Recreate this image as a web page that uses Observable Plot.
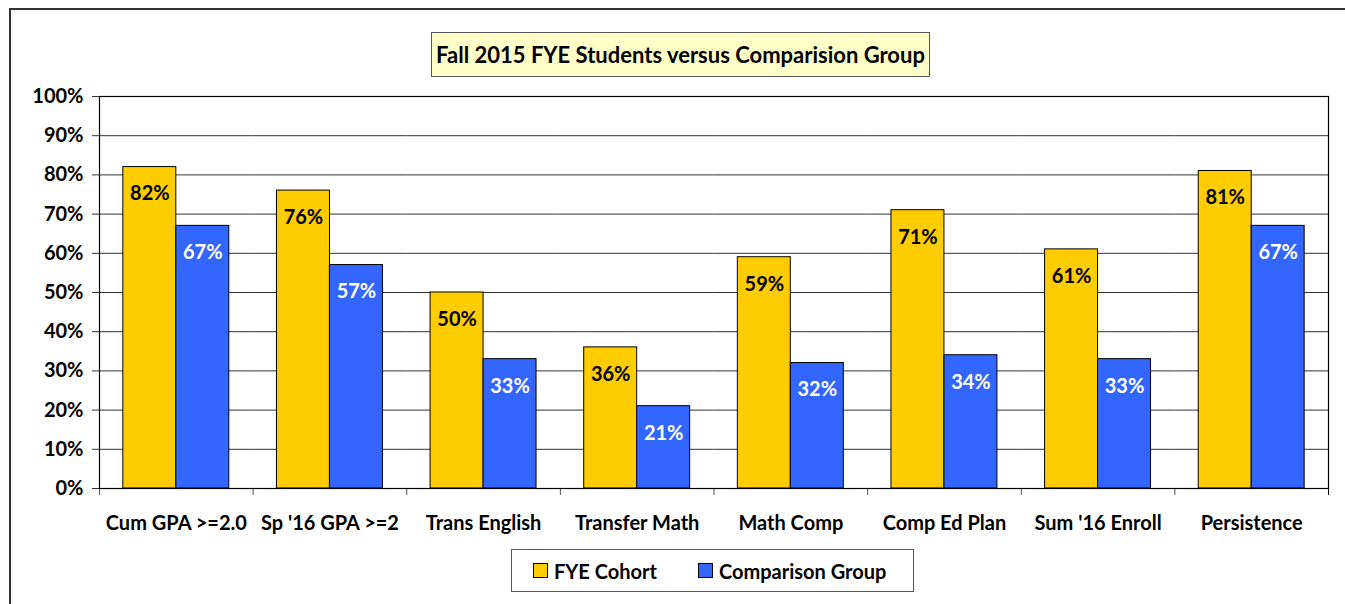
<!DOCTYPE html>
<html>
<head>
<meta charset="utf-8">
<script src="https://cdn.jsdelivr.net/npm/d3@7"></script>
<script src="https://cdn.jsdelivr.net/npm/@observablehq/plot@0.6"></script>
<style>
  html, body { margin: 0; padding: 0; background: #fff; }
  #wrap { position: relative; width: 1345px; height: 604px; overflow: hidden; font-family: Lato, "Liberation Sans", sans-serif; font-weight: bold; }
  #border { position: absolute; left: 9px; top: 8px; right: -10px; bottom: -10px; border-top: 2px solid #333; border-left: 2px solid #333; pointer-events: none; z-index: 3; }
  #chart { position: absolute; left: 0; top: 0; z-index: 1; }
  #title { position: absolute; left: 431px; top: 32px; width: 497px; height: 43px; background: #FFFFC8; border: 1px solid #555; z-index: 2; font-size: 22px; line-height: 44px; text-align: center; color: #000; box-sizing: content-box; white-space: nowrap; }
  #legend { position: absolute; left: 511px; top: 549px; width: 401px; height: 41px; background: #fff; border: 1px solid #555; z-index: 2; font-size: 20px; color: #000; }
  .item { display: flex; align-items: center; position: absolute; top: 0; height: 41px; }
  .sw { width: 15px; height: 15px; border: 1px solid #000; margin-right: 6px; box-sizing: border-box; }
</style>
</head>
<body>
<div id="wrap">
  <div id="chart"></div>
  <div id="title">Fall 2015 FYE Students versus Comparision Group</div>
  <div id="legend"></div>
  <div id="border"></div>
</div>
<script>
const categories = ["Cum GPA >=2.0", "Sp '16 GPA >=2", "Trans English", "Transfer Math", "Math Comp", "Comp Ed Plan", "Sum '16 Enroll", "Persistence"];
const fyeCohort = [82, 76, 50, 36, 59, 71, 61, 81];
const comparisonGroup = [67, 57, 33, 21, 32, 34, 33, 67];
const seriesNames = ["FYE Cohort", "Comparison Group"];
const seriesColors = ["#FFCC00", "#3366FF"];
const labelColors = ["#000000", "#FFFFFF"];
const yTicks = [0, 10, 20, 30, 40, 50, 60, 70, 80, 90, 100];

const rows = categories.flatMap((cat, i) => [
  {cat, series: seriesNames[0], value: fyeCohort[i]},
  {cat, series: seriesNames[1], value: comparisonGroup[i]}
]);

const W = 1345, H = 604, ml = 99, mr = 17, mt = 96, mb = 116;
const step = (W - ml - mr) / categories.length;
const noText = () => "";

const chart = Plot.plot({
  width: W,
  height: H,
  marginLeft: ml,
  marginRight: mr,
  marginTop: mt,
  marginBottom: mb,
  style: {fontFamily: "Lato, 'Liberation Sans', sans-serif", fontSize: "20px", fontWeight: "bold", color: "#000", background: "transparent"},
  fx: {domain: categories, padding: 0, round: false, axis: null},
  x: {domain: seriesNames, paddingInner: 0, paddingOuter: 0.45, round: false, axis: null},
  y: {domain: [0, 100], axis: null},
  color: {domain: seriesNames, range: seriesColors},
  marks: [
    Plot.gridY(yTicks, {stroke: "#333", strokeOpacity: 1, strokeWidth: 1}),
    Plot.barY(rows, {fx: "cat", x: "series", y: "value", fill: "series", stroke: "#000", strokeWidth: 1}),
    Plot.text(rows, {
      fx: "cat", x: "series", y: "value",
      text: d => d.value + "%",
      dy: 27,
      fill: d => labelColors[seriesNames.indexOf(d.series)],
      fontSize: 20, fontWeight: "bold"
    }),
    Plot.axisY(yTicks, {tickFormat: d => d + "%", tickSize: 7, tickPadding: 9, label: null, fontSize: 20, fontWeight: "bold", stroke: "#333"}),
    Plot.axisFx({anchor: "bottom", tickSize: 0, tickPadding: 27, label: null, fontSize: 20, fontWeight: "bold"}),
    Plot.axisFx({anchor: "bottom", tickSize: 7, tickPadding: 0, tickFormat: noText, label: null, dx: -step / 2, stroke: "#555"}),
    Plot.axisFx({anchor: "bottom", ticks: [categories[categories.length - 1]], tickSize: 7, tickPadding: 0, tickFormat: noText, label: null, dx: step / 2, stroke: "#000"}),
    Plot.frame({facet: "super", stroke: "#000", strokeWidth: 1.2})
  ]
});
document.getElementById("chart").appendChild(chart);

const legend = document.getElementById("legend");
const legendLefts = [21, 186];
seriesNames.forEach((name, i) => {
  const item = document.createElement("div");
  item.className = "item";
  item.style.left = legendLefts[i] + "px";
  const sw = document.createElement("div");
  sw.className = "sw";
  sw.style.background = seriesColors[i];
  const label = document.createElement("span");
  label.textContent = name;
  item.appendChild(sw);
  item.appendChild(label);
  legend.appendChild(item);
});
</script>
</body>
</html>
